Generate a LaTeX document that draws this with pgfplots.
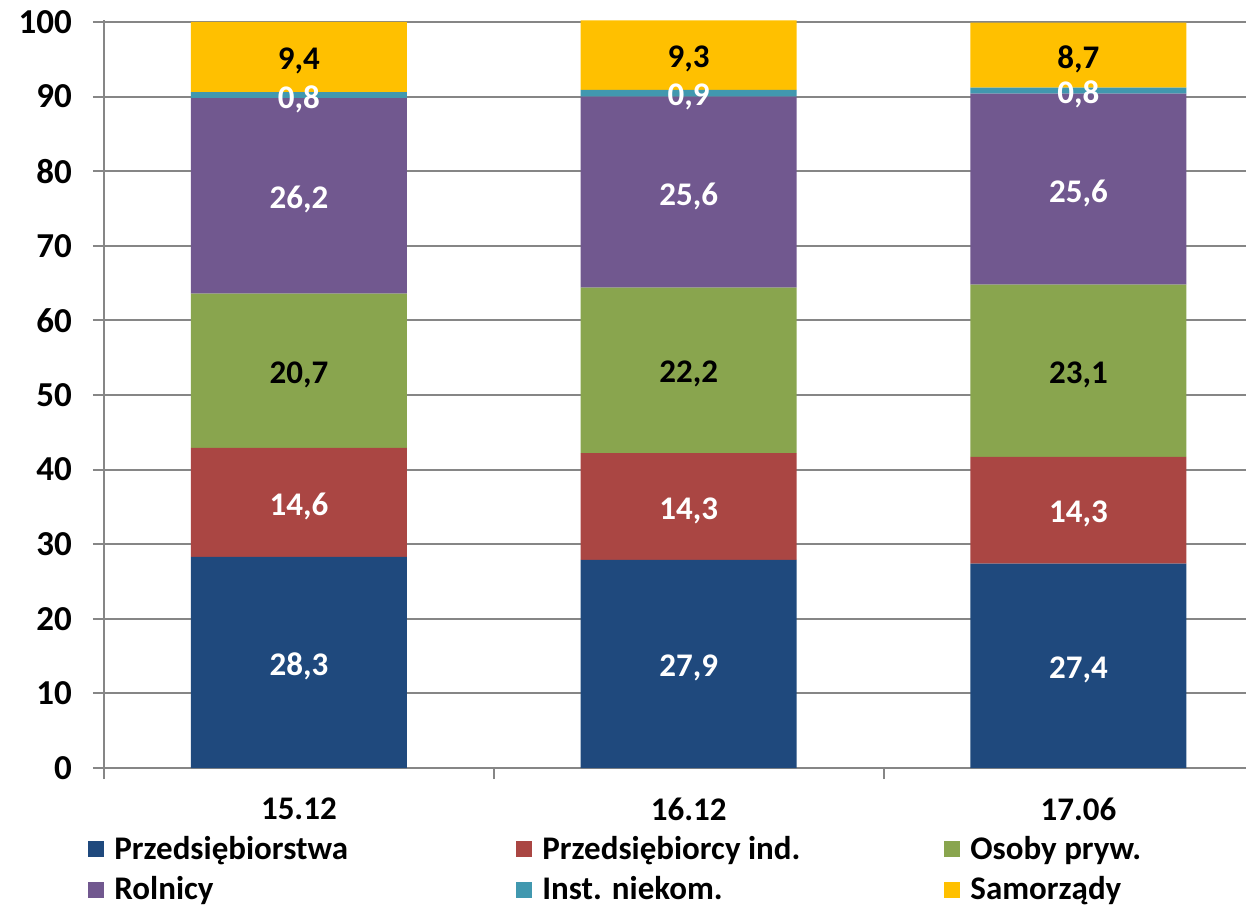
\documentclass[border=0pt]{standalone}
\usepackage{fontspec}
\setmainfont{Carlito}
\usepackage{pgfplots}
\pgfplotsset{compat=1.18}
\definecolor{cBlue}{HTML}{1F497D}
\definecolor{cRed}{HTML}{AA4643}
\definecolor{cGreen}{HTML}{89A54E}
\definecolor{cPurple}{HTML}{71588F}
\definecolor{cTeal}{HTML}{4198AF}
\definecolor{cYellow}{HTML}{FFC000}
\definecolor{cGrid}{HTML}{868686}
\newcommand{\lab}{\bfseries\fontsize{16.5}{19}\selectfont}
\newcommand{\ylab}{\bfseries\fontsize{17.5}{20}\selectfont}
\begin{document}
\begin{tikzpicture}
\path[use as bounding box] (-52pt,-68.5pt) rectangle (571pt,384pt);
\begin{axis}[
    at={(0,0)}, anchor=south west,
    width=571pt, height=373.75pt, scale only axis,
    ybar stacked, bar width=108pt,
    xmin=-0.5, xmax=2.43, ymin=0, ymax=100.2,
    axis x line*=bottom, axis y line*=left,
    axis line style={-, cGrid, line width=1pt},
    xtick={0,1,2}, xticklabels={15.12,16.12,17.06},
    major x tick style={draw=none},
    minor xtick={-0.5,0.5,1.5},
    minor x tick style={cGrid, line width=1pt},
    minor tick length=5.5pt,
    ytick={0,10,...,100},
    major tick length=5.5pt,
    tick align=outside,
    y tick style={cGrid, line width=1pt},
    ymajorgrids, grid style={cGrid, line width=1pt},
    /pgf/number format/assume math mode=true,
    xticklabel style={font=\lab, black, yshift=-6pt},
    yticklabel style={font=\ylab, black, xshift=-7pt},
    nodes near coords={\pgfmathprintnumber[fixed,fixed zerofill,precision=1,use comma]{\pgfplotspointmeta}},
    every node near coord/.append style={anchor=center, font=\lab, yshift=-2pt},
    legend columns=3,
    legend style={at={(0,0)}, anchor=north west, xshift=-8pt, yshift=-32pt,
        draw=none, fill=none, font=\lab, inner sep=0pt, /tikz/row sep=3pt,
        /tikz/every odd column/.append style={column sep=3pt}},
    legend cell align=left,
    legend image code/.code={\fill[#1] (0pt,-4pt) rectangle (8pt,4pt);},
]
\addplot[fill=cBlue, draw=none, nodes near coords style={white}] coordinates {(0,28.3) (1,27.9) (2,27.4)};
\addplot[fill=cRed, draw=none, nodes near coords style={white}] coordinates {(0,14.6) (1,14.3) (2,14.3)};
\addplot[fill=cGreen, draw=none, nodes near coords style={black}] coordinates {(0,20.7) (1,22.2) (2,23.1)};
\addplot[fill=cPurple, draw=none, nodes near coords style={white}] coordinates {(0,26.2) (1,25.6) (2,25.6)};
\addplot[fill=cTeal, draw=none, nodes near coords style={white}] coordinates {(0,0.8) (1,0.9) (2,0.8)};
\addplot[fill=cYellow, draw=none, nodes near coords style={black}] coordinates {(0,9.4) (1,9.3) (2,8.7)};
\addlegendentry{\makebox[199pt][l]{Przedsiębiorstwa}}
\addlegendentry{\makebox[199pt][l]{Przedsiębiorcy ind.}}
\addlegendentry{Osoby pryw.}
\addlegendentry{\makebox[199pt][l]{Rolnicy}}
\addlegendentry{\makebox[199pt][l]{Inst. niekom.}}
\addlegendentry{Samorządy}
\end{axis}
\end{tikzpicture}
\end{document}
